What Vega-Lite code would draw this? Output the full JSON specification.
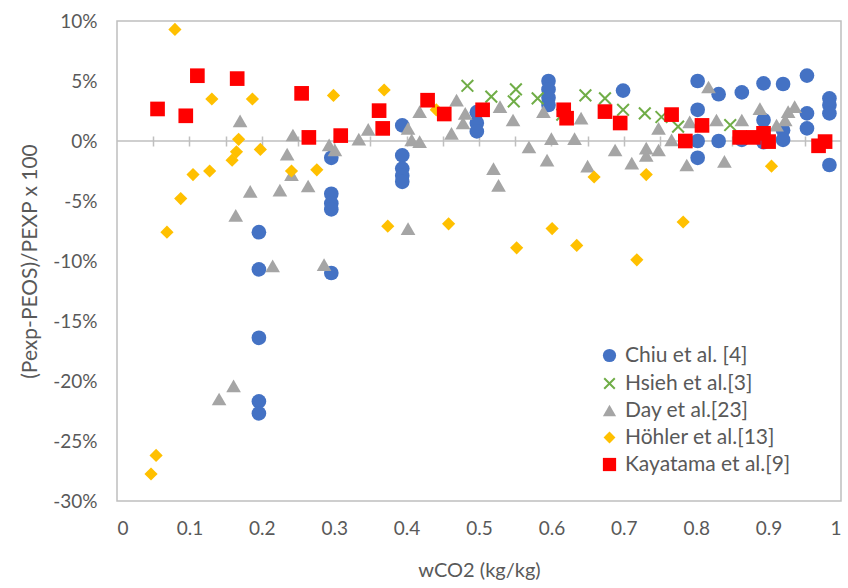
{
  "$schema": "https://vega.github.io/schema/vega-lite/v6.json",
  "width": 724,
  "height": 480,
  "autosize": {"type": "none"},
  "padding": {"left": 117, "top": 21, "right": 7, "bottom": 87},
  "background": "white",
  "config": {
    "font": "Lato",
    "view": {"stroke": "#bfbfbf", "strokeWidth": 1.5}
  },
  "datasets": {
    "pts": [
      {"s": "Chiu et al. [4]", "w": 0.196, "d": -7.6},
      {"s": "Chiu et al. [4]", "w": 0.196, "d": -10.7},
      {"s": "Chiu et al. [4]", "w": 0.196, "d": -16.4},
      {"s": "Chiu et al. [4]", "w": 0.196, "d": -21.7},
      {"s": "Chiu et al. [4]", "w": 0.196, "d": -22.7},
      {"s": "Chiu et al. [4]", "w": 0.296, "d": -1.4},
      {"s": "Chiu et al. [4]", "w": 0.296, "d": -4.4},
      {"s": "Chiu et al. [4]", "w": 0.296, "d": -5.2},
      {"s": "Chiu et al. [4]", "w": 0.296, "d": -5.7},
      {"s": "Chiu et al. [4]", "w": 0.296, "d": -11.0},
      {"s": "Chiu et al. [4]", "w": 0.394, "d": 1.3},
      {"s": "Chiu et al. [4]", "w": 0.394, "d": -1.2},
      {"s": "Chiu et al. [4]", "w": 0.394, "d": -2.3},
      {"s": "Chiu et al. [4]", "w": 0.394, "d": -2.9},
      {"s": "Chiu et al. [4]", "w": 0.394, "d": -3.4},
      {"s": "Chiu et al. [4]", "w": 0.497, "d": 2.4},
      {"s": "Chiu et al. [4]", "w": 0.497, "d": 1.5},
      {"s": "Chiu et al. [4]", "w": 0.497, "d": 0.8},
      {"s": "Chiu et al. [4]", "w": 0.596, "d": 5.0},
      {"s": "Chiu et al. [4]", "w": 0.596, "d": 4.3},
      {"s": "Chiu et al. [4]", "w": 0.596, "d": 3.6},
      {"s": "Chiu et al. [4]", "w": 0.596, "d": 3.0},
      {"s": "Chiu et al. [4]", "w": 0.699, "d": 4.2},
      {"s": "Chiu et al. [4]", "w": 0.802, "d": 5.0},
      {"s": "Chiu et al. [4]", "w": 0.802, "d": 2.6},
      {"s": "Chiu et al. [4]", "w": 0.802, "d": 0.0},
      {"s": "Chiu et al. [4]", "w": 0.802, "d": -1.4},
      {"s": "Chiu et al. [4]", "w": 0.831, "d": 3.9},
      {"s": "Chiu et al. [4]", "w": 0.831, "d": 0.0},
      {"s": "Chiu et al. [4]", "w": 0.863, "d": 4.05},
      {"s": "Chiu et al. [4]", "w": 0.863, "d": 0.1},
      {"s": "Chiu et al. [4]", "w": 0.893, "d": 4.8},
      {"s": "Chiu et al. [4]", "w": 0.893, "d": 1.75},
      {"s": "Chiu et al. [4]", "w": 0.893, "d": -0.1},
      {"s": "Chiu et al. [4]", "w": 0.92, "d": 4.75},
      {"s": "Chiu et al. [4]", "w": 0.92, "d": 0.9},
      {"s": "Chiu et al. [4]", "w": 0.92, "d": 0.1},
      {"s": "Chiu et al. [4]", "w": 0.953, "d": 5.45},
      {"s": "Chiu et al. [4]", "w": 0.953, "d": 2.3},
      {"s": "Chiu et al. [4]", "w": 0.953, "d": 1.05},
      {"s": "Chiu et al. [4]", "w": 0.984, "d": 3.55},
      {"s": "Chiu et al. [4]", "w": 0.984, "d": 3.0},
      {"s": "Chiu et al. [4]", "w": 0.984, "d": 2.3},
      {"s": "Chiu et al. [4]", "w": 0.984, "d": -2.0},
      {"s": "Hsieh et al.[3]", "w": 0.484, "d": 4.6},
      {"s": "Hsieh et al.[3]", "w": 0.517, "d": 3.7},
      {"s": "Hsieh et al.[3]", "w": 0.551, "d": 4.3},
      {"s": "Hsieh et al.[3]", "w": 0.548, "d": 3.3},
      {"s": "Hsieh et al.[3]", "w": 0.581, "d": 3.55},
      {"s": "Hsieh et al.[3]", "w": 0.615, "d": 2.2},
      {"s": "Hsieh et al.[3]", "w": 0.647, "d": 3.8},
      {"s": "Hsieh et al.[3]", "w": 0.674, "d": 3.55},
      {"s": "Hsieh et al.[3]", "w": 0.699, "d": 2.6},
      {"s": "Hsieh et al.[3]", "w": 0.729, "d": 2.3},
      {"s": "Hsieh et al.[3]", "w": 0.752, "d": 2.0},
      {"s": "Hsieh et al.[3]", "w": 0.775, "d": 1.2},
      {"s": "Hsieh et al.[3]", "w": 0.847, "d": 1.33},
      {"s": "Day et al.[23]", "w": 0.141, "d": -21.5},
      {"s": "Day et al.[23]", "w": 0.161, "d": -20.4},
      {"s": "Day et al.[23]", "w": 0.164, "d": -6.2},
      {"s": "Day et al.[23]", "w": 0.17, "d": 1.67},
      {"s": "Day et al.[23]", "w": 0.184, "d": -4.2},
      {"s": "Day et al.[23]", "w": 0.215, "d": -10.4},
      {"s": "Day et al.[23]", "w": 0.225, "d": -4.1},
      {"s": "Day et al.[23]", "w": 0.235, "d": -1.1},
      {"s": "Day et al.[23]", "w": 0.243, "d": 0.5},
      {"s": "Day et al.[23]", "w": 0.241, "d": -2.8},
      {"s": "Day et al.[23]", "w": 0.264, "d": -3.75},
      {"s": "Day et al.[23]", "w": 0.286, "d": -10.3},
      {"s": "Day et al.[23]", "w": 0.293, "d": -0.33},
      {"s": "Day et al.[23]", "w": 0.301, "d": -0.75},
      {"s": "Day et al.[23]", "w": 0.334, "d": 0.15},
      {"s": "Day et al.[23]", "w": 0.347, "d": 0.97},
      {"s": "Day et al.[23]", "w": 0.402, "d": 1.05},
      {"s": "Day et al.[23]", "w": 0.407, "d": 0.1},
      {"s": "Day et al.[23]", "w": 0.418, "d": -0.05},
      {"s": "Day et al.[23]", "w": 0.418, "d": 2.45},
      {"s": "Day et al.[23]", "w": 0.402, "d": -7.3},
      {"s": "Day et al.[23]", "w": 0.462, "d": 0.64},
      {"s": "Day et al.[23]", "w": 0.469, "d": 3.4},
      {"s": "Day et al.[23]", "w": 0.478, "d": 1.5},
      {"s": "Day et al.[23]", "w": 0.481, "d": 2.3},
      {"s": "Day et al.[23]", "w": 0.52, "d": -2.3},
      {"s": "Day et al.[23]", "w": 0.527, "d": -3.7},
      {"s": "Day et al.[23]", "w": 0.529, "d": 2.86},
      {"s": "Day et al.[23]", "w": 0.547, "d": 1.75},
      {"s": "Day et al.[23]", "w": 0.569, "d": -0.5},
      {"s": "Day et al.[23]", "w": 0.589, "d": 2.45},
      {"s": "Day et al.[23]", "w": 0.594, "d": -1.6},
      {"s": "Day et al.[23]", "w": 0.6, "d": 0.2},
      {"s": "Day et al.[23]", "w": 0.632, "d": 0.2},
      {"s": "Day et al.[23]", "w": 0.641, "d": 1.9},
      {"s": "Day et al.[23]", "w": 0.65, "d": -2.1},
      {"s": "Day et al.[23]", "w": 0.688, "d": -0.75},
      {"s": "Day et al.[23]", "w": 0.711, "d": -1.85},
      {"s": "Day et al.[23]", "w": 0.731, "d": -0.6},
      {"s": "Day et al.[23]", "w": 0.731, "d": -1.2},
      {"s": "Day et al.[23]", "w": 0.748, "d": 1.05},
      {"s": "Day et al.[23]", "w": 0.748, "d": -0.75},
      {"s": "Day et al.[23]", "w": 0.766, "d": 0.1},
      {"s": "Day et al.[23]", "w": 0.787, "d": -2.0},
      {"s": "Day et al.[23]", "w": 0.791, "d": 1.6},
      {"s": "Day et al.[23]", "w": 0.817, "d": 4.5},
      {"s": "Day et al.[23]", "w": 0.828, "d": 1.75},
      {"s": "Day et al.[23]", "w": 0.839, "d": -1.7},
      {"s": "Day et al.[23]", "w": 0.863, "d": 1.75},
      {"s": "Day et al.[23]", "w": 0.888, "d": 2.7},
      {"s": "Day et al.[23]", "w": 0.911, "d": 1.33},
      {"s": "Day et al.[23]", "w": 0.923, "d": 1.75},
      {"s": "Day et al.[23]", "w": 0.927, "d": 2.45},
      {"s": "Day et al.[23]", "w": 0.936, "d": 2.86},
      {"s": "Höhler et al.[13]", "w": 0.047, "d": -27.75},
      {"s": "Höhler et al.[13]", "w": 0.054, "d": -26.2},
      {"s": "Höhler et al.[13]", "w": 0.069, "d": -7.6},
      {"s": "Höhler et al.[13]", "w": 0.08, "d": 9.3},
      {"s": "Höhler et al.[13]", "w": 0.088, "d": -4.8},
      {"s": "Höhler et al.[13]", "w": 0.105, "d": -2.8},
      {"s": "Höhler et al.[13]", "w": 0.128, "d": -2.5},
      {"s": "Höhler et al.[13]", "w": 0.131, "d": 3.5},
      {"s": "Höhler et al.[13]", "w": 0.159, "d": -1.6},
      {"s": "Höhler et al.[13]", "w": 0.165, "d": -0.9},
      {"s": "Höhler et al.[13]", "w": 0.168, "d": 0.14},
      {"s": "Höhler et al.[13]", "w": 0.187, "d": 3.5},
      {"s": "Höhler et al.[13]", "w": 0.198, "d": -0.7},
      {"s": "Höhler et al.[13]", "w": 0.241, "d": -2.5},
      {"s": "Höhler et al.[13]", "w": 0.276, "d": -2.4},
      {"s": "Höhler et al.[13]", "w": 0.299, "d": 3.8},
      {"s": "Höhler et al.[13]", "w": 0.369, "d": 4.25},
      {"s": "Höhler et al.[13]", "w": 0.374, "d": -7.1},
      {"s": "Höhler et al.[13]", "w": 0.441, "d": 2.6},
      {"s": "Höhler et al.[13]", "w": 0.458, "d": -6.9},
      {"s": "Höhler et al.[13]", "w": 0.552, "d": -8.9},
      {"s": "Höhler et al.[13]", "w": 0.601, "d": -7.3},
      {"s": "Höhler et al.[13]", "w": 0.635, "d": -8.7},
      {"s": "Höhler et al.[13]", "w": 0.659, "d": -3.0},
      {"s": "Höhler et al.[13]", "w": 0.718, "d": -9.9},
      {"s": "Höhler et al.[13]", "w": 0.731, "d": -2.8},
      {"s": "Höhler et al.[13]", "w": 0.782, "d": -6.75},
      {"s": "Höhler et al.[13]", "w": 0.904, "d": -2.1},
      {"s": "Kayatama et al.[9]", "w": 0.056, "d": 2.67},
      {"s": "Kayatama et al.[9]", "w": 0.095, "d": 2.1},
      {"s": "Kayatama et al.[9]", "w": 0.111, "d": 5.44},
      {"s": "Kayatama et al.[9]", "w": 0.166, "d": 5.2},
      {"s": "Kayatama et al.[9]", "w": 0.255, "d": 3.97},
      {"s": "Kayatama et al.[9]", "w": 0.265, "d": 0.3},
      {"s": "Kayatama et al.[9]", "w": 0.309, "d": 0.45},
      {"s": "Kayatama et al.[9]", "w": 0.362, "d": 2.53},
      {"s": "Kayatama et al.[9]", "w": 0.367, "d": 1.05},
      {"s": "Kayatama et al.[9]", "w": 0.429, "d": 3.4},
      {"s": "Kayatama et al.[9]", "w": 0.452, "d": 2.25},
      {"s": "Kayatama et al.[9]", "w": 0.505, "d": 2.6},
      {"s": "Kayatama et al.[9]", "w": 0.617, "d": 2.6},
      {"s": "Kayatama et al.[9]", "w": 0.621, "d": 1.9},
      {"s": "Kayatama et al.[9]", "w": 0.674, "d": 2.45},
      {"s": "Kayatama et al.[9]", "w": 0.695, "d": 1.5},
      {"s": "Kayatama et al.[9]", "w": 0.766, "d": 2.2},
      {"s": "Kayatama et al.[9]", "w": 0.785, "d": 0.0},
      {"s": "Kayatama et al.[9]", "w": 0.808, "d": 1.3},
      {"s": "Kayatama et al.[9]", "w": 0.86, "d": 0.3},
      {"s": "Kayatama et al.[9]", "w": 0.879, "d": 0.3},
      {"s": "Kayatama et al.[9]", "w": 0.893, "d": 0.64},
      {"s": "Kayatama et al.[9]", "w": 0.9, "d": -0.05},
      {"s": "Kayatama et al.[9]", "w": 0.969, "d": -0.4},
      {"s": "Kayatama et al.[9]", "w": 0.978, "d": -0.05}
    ]
  },
  "resolve": {"axis": {"x": "independent"}},
  "layer": [
    {
      "data": {"values": [{}]},
      "mark": {"type": "rule", "color": "#bfbfbf", "strokeWidth": 1.5},
      "encoding": {
        "x": {
          "datum": 0,
          "type": "quantitative",
          "scale": {"domain": [0, 1], "nice": false},
          "axis": {
            "orient": "top",
            "offset": -125,
            "labels": false,
            "domain": false,
            "grid": false,
            "title": null,
            "ticks": true,
            "tickSize": 10,
            "tickColor": "#bfbfbf",
            "tickWidth": 1.5,
            "values": [0.05, 0.1, 0.15, 0.2, 0.25, 0.3, 0.35, 0.4, 0.45, 0.5, 0.55, 0.6, 0.65, 0.7, 0.75, 0.8, 0.85, 0.9, 0.95]
          }
        },
        "x2": {"datum": 1},
        "y": {"datum": 0, "type": "quantitative"}
      }
    },
    {
      "data": {"name": "pts"},
      "mark": {"type": "point", "opacity": 1, "size": 215, "strokeWidth": 2},
      "encoding": {
        "x": {
          "field": "w",
          "type": "quantitative",
          "scale": {"domain": [0, 1], "nice": false},
          "axis": {
            "orient": "bottom",
            "values": [0, 0.1, 0.2, 0.3, 0.4, 0.5, 0.6, 0.7, 0.8, 0.9, 1],
            "format": "~g",
            "grid": false,
            "ticks": false,
            "domain": false,
            "labelPadding": 18,
            "labelFontSize": 19,
            "labelColor": "#595959",
            "title": "wCO2 (kg/kg)",
            "titleFontSize": 20,
            "titleFontWeight": "normal",
            "titleColor": "#595959",
            "titlePadding": 22
          }
        },
        "y": {
          "field": "d",
          "type": "quantitative",
          "scale": {"domain": [-30, 10], "nice": false},
          "axis": {
            "values": [-30, -25, -20, -15, -10, -5, 0, 5, 10],
            "labelExpr": "datum.value + '%'",
            "grid": false,
            "ticks": false,
            "domain": false,
            "labelPadding": 20,
            "labelFontSize": 19,
            "labelColor": "#595959",
            "title": "(Pexp-PEOS)/PEXP x 100",
            "titleFontSize": 21,
            "titleFontWeight": "normal",
            "titleColor": "#595959",
            "titlePadding": 12
          }
        },
        "shape": {
          "field": "s",
          "type": "nominal",
          "scale": {
            "domain": ["Chiu et al. [4]", "Hsieh et al.[3]", "Day et al.[23]", "Höhler et al.[13]", "Kayatama et al.[9]"],
            "range": ["circle", "M-0.8,-0.8L0.8,0.8M-0.8,0.8L0.8,-0.8", "triangle-up", "M0,-0.9L0.9,0L0,0.9L-0.9,0Z", "square"]
          },
          "legend": {
            "orient": "none",
            "legendX": 482,
            "legendY": 324,
            "title": null,
            "padding": 0,
            "labelFont": "Lato",
            "labelFontSize": 21,
            "labelColor": "#595959",
            "labelLimit": 400,
            "labelOffset": 5,
            "rowPadding": 5,
            "symbolSize": 175,
            "symbolStrokeWidth": 2,
            "symbolOpacity": 1
          }
        },
        "fill": {
          "field": "s",
          "type": "nominal",
          "scale": {
            "domain": ["Chiu et al. [4]", "Hsieh et al.[3]", "Day et al.[23]", "Höhler et al.[13]", "Kayatama et al.[9]"],
            "range": ["#4472C4", "transparent", "#A5A5A5", "#FFC000", "#FF0000"]
          }
        },
        "stroke": {
          "field": "s",
          "type": "nominal",
          "scale": {
            "domain": ["Chiu et al. [4]", "Hsieh et al.[3]", "Day et al.[23]", "Höhler et al.[13]", "Kayatama et al.[9]"],
            "range": ["transparent", "#70AD47", "transparent", "transparent", "transparent"]
          }
        }
      }
    }
  ]
}
